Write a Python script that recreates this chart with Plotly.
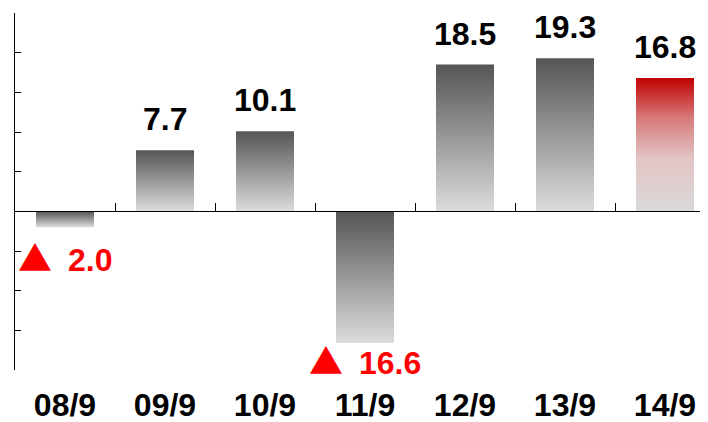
import plotly.graph_objects as go

categories = ["08/9", "09/9", "10/9", "11/9", "12/9", "13/9", "14/9"]
values = [-2.0, 7.7, 10.1, -16.6, 18.5, 19.3, 16.8]
highlight = [False, False, False, False, False, False, True]
y_range = [-20, 25]
y_dtick = 5

BAR_W = 0.58
GRAY_SCALE = [[0, "#dcdcdc"], [1, "#555555"]]
RED_SCALE = [[0, "#d9d9d9"], [0.4, "#e3c4c4"], [0.7, "#d77a7a"], [1, "#c00000"]]
FONT = "Liberation Sans, DejaVu Sans, Arial, sans-serif"
NEG_SHIFT = {0: -3, 3: 10}

fig = go.Figure()
for i, v in enumerate(values):
    xs = [i - BAR_W / 2, i + BAR_W / 2, i + BAR_W / 2, i - BAR_W / 2, i - BAR_W / 2]
    ys = [0, 0, v, v, 0]
    fig.add_trace(go.Scatter(
        x=xs, y=ys, mode="lines", fill="toself",
        line=dict(width=0, color="rgba(0,0,0,0)"),
        fillgradient=dict(type="vertical",
                          colorscale=RED_SCALE if highlight[i] else GRAY_SCALE),
        hoverinfo="skip", showlegend=False,
    ))
    if v >= 0:
        fig.add_annotation(x=i, y=v, text=f"<b>{v:.1f}</b>", showarrow=False,
                           yanchor="bottom", yshift=11,
                           font=dict(family=FONT, size=32, color="black"))
    else:
        fig.add_annotation(
            x=i, y=v,
            text=("<span style=\"font-family:'Noto Sans CJK JP';font-size:34px\">▲</span>"
                  f"\u2002<b>{abs(v):.1f}</b>"),
            showarrow=False, yanchor="top", yshift=NEG_SHIFT.get(i, 0),
            font=dict(family=FONT, size=32, color="#ff0000"))

# helper trace for the zero-line axis
fig.add_trace(go.Scatter(x=[None], y=[None], xaxis="x2", showlegend=False, hoverinfo="skip"))

zero_pos = (0 - y_range[0]) / (y_range[1] - y_range[0])
x_range = [-0.5, 6.43]

fig.update_layout(
    width=700, height=414,
    margin=dict(l=7, r=0, t=5, b=52, autoexpand=False),
    paper_bgcolor="white", plot_bgcolor="white",
    font=dict(family=FONT, size=32, color="black"),
    xaxis=dict(
        range=x_range, tickmode="array",
        tickvals=list(range(len(categories))),
        ticktext=[f"<b>{c}</b>" for c in categories],
        showline=False, showgrid=False, zeroline=False, ticks="",
        tickfont=dict(family=FONT, size=32, color="black"),
        ticklabelstandoff=13, automargin=False,
    ),
    xaxis2=dict(
        overlaying="x", matches="x", anchor="free", position=zero_pos,
        showline=True, linecolor="black", linewidth=1,
        tickmode="array", tickvals=[i + 0.5 for i in range(len(categories))],
        ticks="inside", ticklen=8, tickcolor="black", tickwidth=1,
        showticklabels=False, showgrid=False, zeroline=False, automargin=False,
    ),
    yaxis=dict(
        range=y_range, dtick=y_dtick, tick0=0,
        showline=True, linecolor="black", linewidth=1,
        ticks="inside", ticklen=6, tickcolor="black", tickwidth=1,
        showticklabels=False, showgrid=False, zeroline=False, automargin=False,
    ),
)

fig.write_html("out.html")
